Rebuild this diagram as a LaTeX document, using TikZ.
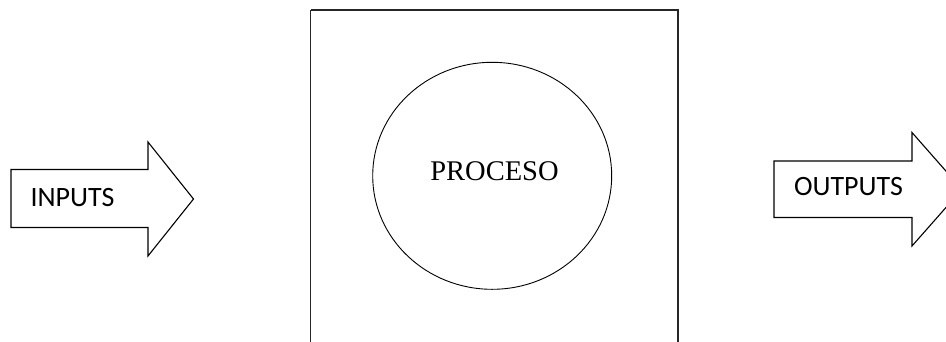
\documentclass[tikz,border=0pt]{standalone}
\usepackage{fontspec}
\setmainfont{Liberation Serif}
\newfontfamily\calib{Carlito}
\begin{document}
\begin{tikzpicture}[x=1pt,y=-1pt,
  arrowshape/.style={draw=black,line width=1.1pt,line join=miter,fill=white},
  framebox/.style={draw=black!85,line width=1.2pt},
  sanslabel/.style={font=\calib\fontsize{28}{30}\selectfont,inner sep=0pt,anchor=center},
  seriflabel/.style={font=\fontsize{28.5}{30}\selectfont,inner sep=0pt,anchor=center}]
\useasboundingbox (0,0) rectangle (946,341);
\clip (0,0) rectangle (946,341);
\fill[white] (0,0) rectangle (946,341);
% process frame
\draw[framebox] (310.5,10) -- (678,10) -- (678,360) (310.5,10) -- (310.5,360);
\draw[line width=0.9pt] (492.2,175.8) ellipse [x radius=119.5, y radius=113.5];
\node[seriflabel] (proceso) at (494.5,171.5) {PROCESO};
% inputs arrow
\draw[arrowshape] (11,169.5) -- (148,169.5) -- (148,142) -- (193.5,199) -- (148,256) -- (148,227.5) -- (11,227.5) -- cycle;
\node[sanslabel] (inputs) at (72.5,197.5) {INPUTS};
% outputs arrow
\draw[arrowshape] (774,161) -- (912,161) -- (912,132.5) -- (962,189.3) -- (912,246) -- (912,217.5) -- (774,217.5) -- cycle;
\node[sanslabel] (outputs) at (848.5,187) {OUTPUTS};
\end{tikzpicture}
\end{document}
